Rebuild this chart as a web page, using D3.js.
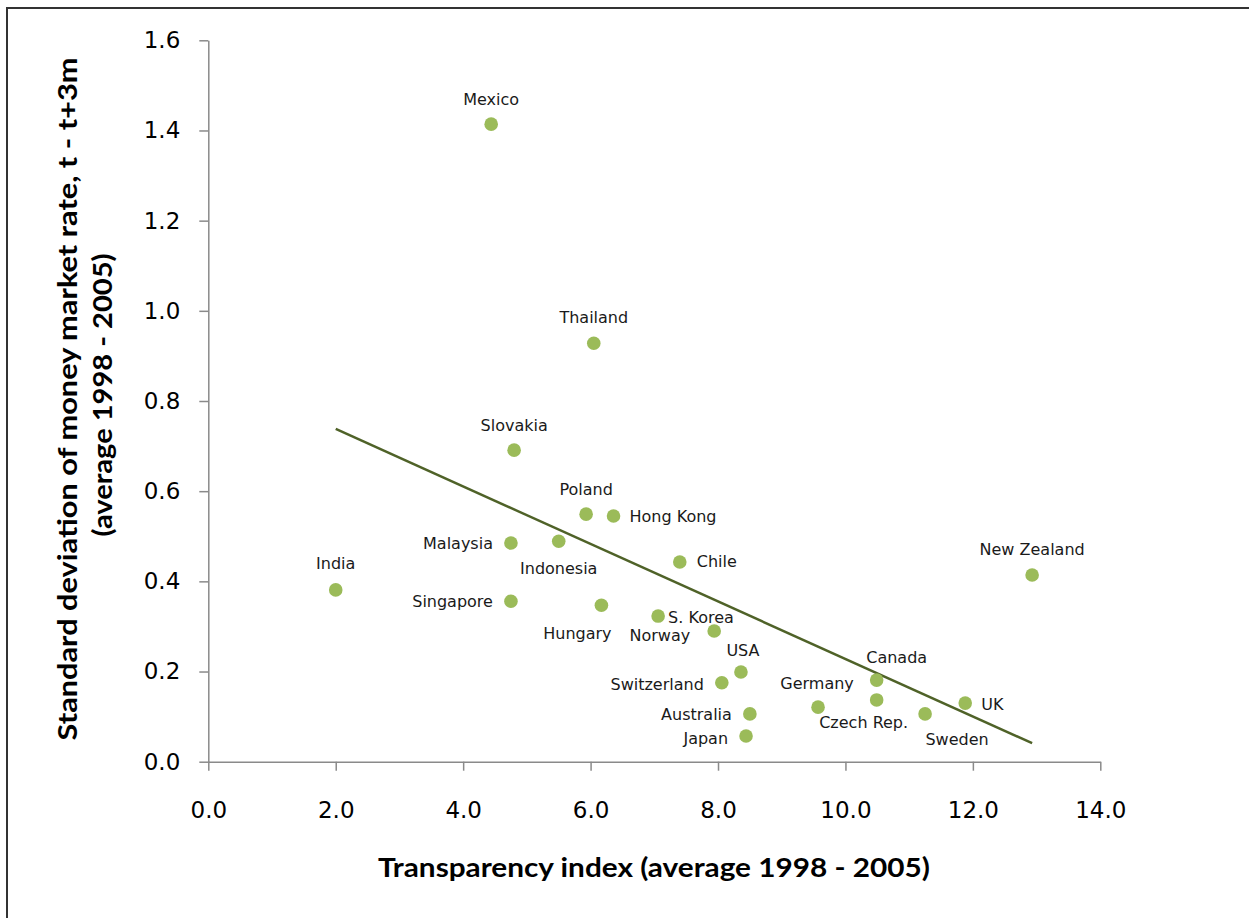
<!DOCTYPE html>
<html>
<head>
<meta charset="utf-8">
<script src="https://cdn.jsdelivr.net/npm/d3@7/dist/d3.min.js"></script>
<style>
  html, body { margin: 0; padding: 0; background: #fff; }
  svg { display: block; }
</style>
</head>
<body>
<svg id="chart" width="1249" height="918"></svg>
<script>
// ---------------- DATA ----------------
const countries = ["Mexico","Thailand","Slovakia","Poland","Hong Kong","Malaysia","Indonesia","Chile","India","Singapore","Hungary","S. Korea","Norway","USA","Switzerland","Australia","Japan","Germany","Canada","Czech Rep.","Sweden","UK","New Zealand"];
const transparency = [4.44, 6.05, 4.80, 5.93, 6.36, 4.75, 5.50, 7.40, 2.00, 4.75, 6.17, 7.06, 7.94, 8.36, 8.06, 8.50, 8.44, 9.57, 10.49, 10.49, 11.25, 11.88, 12.93];
const stdDev = [1.414, 0.928, 0.691, 0.549, 0.545, 0.485, 0.489, 0.443, 0.381, 0.356, 0.347, 0.323, 0.290, 0.199, 0.175, 0.106, 0.057, 0.121, 0.181, 0.137, 0.106, 0.130, 0.414];
const xTicks = [0, 2, 4, 6, 8, 10, 12, 14];
const yTicks = [0, 0.2, 0.4, 0.6, 0.8, 1.0, 1.2, 1.4, 1.6];
const xTitle = "Transparency index (average 1998 - 2005)";
const yTitle1 = "Standard deviation of money market rate, t - t+3m";
const yTitle2 = "(average 1998 - 2005)";

// ---------------- LAYOUT (label placement, pixels) ----------------
const labelPlace = {
  "Mexico": [0, -25, "middle"], "Thailand": [0, -26, "middle"], "Slovakia": [0, -25, "middle"],
  "Poland": [0, -25, "middle"], "Hong Kong": [16, 1, "start"], "Malaysia": [-18, 0, "end"],
  "Indonesia": [0, 27, "middle"], "Chile": [17, 0, "start"], "India": [0, -26, "middle"],
  "Singapore": [-18, 0, "end"], "Hungary": [-24, 28, "middle"], "S. Korea": [10, 1, "start"],
  "Norway": [-24, 5, "end"], "USA": [2, -21, "middle"], "Switzerland": [-18, 2, "end"],
  "Australia": [-18, 1, "end"], "Japan": [-18, 2, "end"], "Germany": [-1, -24, "middle"],
  "Canada": [20, -23, "middle"], "Czech Rep.": [-13, 23, "middle"], "Sweden": [32, 26, "middle"],
  "UK": [16, 1, "start"], "New Zealand": [0, -26, "middle"]
};

const points = countries.map((c, i) => ({ name: c, x: transparency[i], y: stdDev[i] }));

const svg = d3.select("#chart");

// frame
svg.append("rect").attr("x", 7).attr("y", 8).attr("width", 1260).attr("height", 930)
  .attr("fill", "none").attr("stroke", "#333").attr("stroke-width", 2);

const x = d3.scaleLinear().domain([0, 14]).range([208.3, 1100.3]);
const y = d3.scaleLinear().domain([0, 1.6]).range([761.7, 40.3]);

const axisColor = "#8a8a8a";
const tickFont = "'DejaVu Sans', Verdana, sans-serif";

// x axis
const gx = svg.append("g").attr("transform", `translate(0,${y(0)})`)
  .call(d3.axisBottom(x).tickValues(xTicks).tickFormat(d3.format(".1f")).tickSizeInner(9).tickSizeOuter(0).tickPadding(31));
gx.select(".domain").attr("stroke", axisColor).attr("stroke-width", 1.5);
gx.selectAll(".tick line").attr("stroke", axisColor).attr("stroke-width", 1.5);
gx.selectAll(".tick text").attr("font-family", tickFont).attr("font-size", 23).attr("fill", "#000");

// y axis
const gy = svg.append("g").attr("transform", `translate(${x(0)},0)`)
  .call(d3.axisLeft(y).tickValues(yTicks).tickFormat(d3.format(".1f")).tickSizeInner(9).tickSizeOuter(0).tickPadding(19));
gy.select(".domain").attr("stroke", axisColor).attr("stroke-width", 1.5);
gy.selectAll(".tick line").attr("stroke", axisColor).attr("stroke-width", 1.5);
gy.selectAll(".tick text").attr("font-family", tickFont).attr("font-size", 23).attr("fill", "#000");

// linear trend (least squares)
const mx = d3.mean(points, d => d.x), my = d3.mean(points, d => d.y);
const sxy = d3.sum(points, d => (d.x - mx) * (d.y - my));
const sxx = d3.sum(points, d => (d.x - mx) ** 2);
const slope = sxy / sxx, intercept = my - slope * mx;
const [xmin, xmax] = d3.extent(points, d => d.x);
svg.append("path")
  .datum([xmin, xmax].map(v => [v, intercept + slope * v]))
  .attr("d", d3.line().x(d => x(d[0])).y(d => y(d[1])))
  .attr("fill", "none").attr("stroke", "#4f6228").attr("stroke-width", 2.5);

// points
svg.append("g").selectAll("circle").data(points).join("circle")
  .attr("cx", d => x(d.x)).attr("cy", d => y(d.y)).attr("r", 6.8)
  .attr("fill", "#9bbb59");

// labels
svg.append("g").selectAll("text").data(points).join("text")
  .attr("x", d => x(d.x) + labelPlace[d.name][0])
  .attr("y", d => y(d.y) + labelPlace[d.name][1])
  .attr("text-anchor", d => labelPlace[d.name][2])
  .attr("dominant-baseline", "central")
  .attr("font-family", tickFont).attr("font-size", 16).attr("fill", "#1a1a1a")
  .text(d => d.name);

// axis titles
const titleFont = "Lato, 'Open Sans', sans-serif";
svg.append("text").attr("x", 654).attr("y", 877).attr("text-anchor", "middle")
  .attr("font-family", titleFont).attr("font-weight", "bold").attr("font-size", 27)
  .attr("textLength", 552).attr("lengthAdjust", "spacingAndGlyphs")
  .text(xTitle);

const yt = svg.append("g").attr("transform", "translate(0,399) rotate(-90)");
yt.append("text").attr("x", 0).attr("y", 77).attr("text-anchor", "middle")
  .attr("font-family", titleFont).attr("font-weight", "bold").attr("font-size", 27)
  .attr("textLength", 683).attr("lengthAdjust", "spacingAndGlyphs")
  .text(yTitle1);
yt.append("text").attr("x", 4).attr("y", 112).attr("text-anchor", "middle")
  .attr("font-family", titleFont).attr("font-weight", "bold").attr("font-size", 27)
  .attr("textLength", 283).attr("lengthAdjust", "spacingAndGlyphs")
  .text(yTitle2);
</script>
</body>
</html>
